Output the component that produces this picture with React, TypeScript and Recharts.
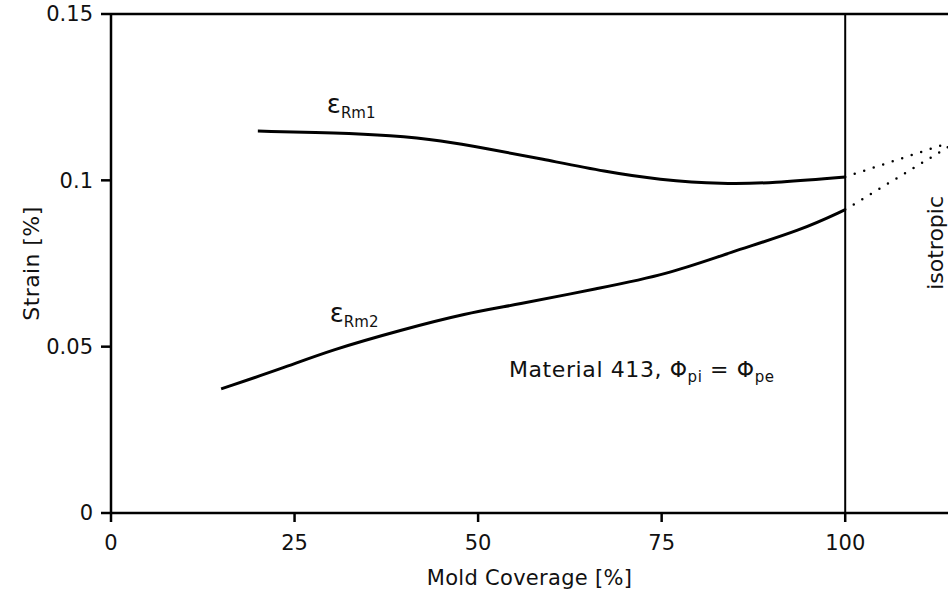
import { LineChart, Line, XAxis, YAxis, ReferenceLine, ReferenceDot, Label } from "recharts";

// mold coverage [%] and measured strain [%] along each curve
const rm1Coverage = [20, 31, 38, 45, 51.5, 58.5, 67.5, 74.5, 83.5, 90, 100];
const rm1Strain = [0.1148, 0.1143, 0.1135, 0.1120, 0.1094, 0.1065, 0.1025, 0.1002, 0.0988, 0.0992, 0.101];

const rm2Coverage = [15, 23.5, 30, 39.5, 48.5, 55, 66.5, 75.5, 84.5, 94, 100];
const rm2Strain = [0.0373, 0.0436, 0.049, 0.055, 0.0601, 0.0625, 0.0676, 0.0715, 0.0785, 0.085, 0.0912];

// dotted extrapolation toward the isotropic case
const extCoverage = [100, 114];
const ext1Strain = [0.101, 0.1112];
const ext2Strain = [0.0912, 0.1100];

const xTicks = [0, 25, 50, 75, 100];
const yTicks = [0, 0.05, 0.1, 0.15];

const toPoints = (xs: number[], ys: number[]) => xs.map((x, i) => ({ x, y: ys[i] }));

const rm1 = toPoints(rm1Coverage, rm1Strain);
const rm2 = toPoints(rm2Coverage, rm2Strain);
const ext1 = toPoints(extCoverage, ext1Strain);
const ext2 = toPoints(extCoverage, ext2Strain);

const FONT = "DejaVu Sans";
const INK = "#111";

const Epsilon = ({ cx, cy, sub }: any) => (
  <text x={cx} y={cy} fontSize={26} fill={INK} fontFamily={FONT}>
    <tspan>ε</tspan>
    <tspan fontSize={15} dy={5}>{sub}</tspan>
  </text>
);

const Vertical = ({ cx, cy, text }: any) => (
  <text x={cx} y={cy} fontSize={22} fill={INK} fontFamily={FONT}
    textAnchor="middle" dominantBaseline="central" transform={`rotate(-90 ${cx} ${cy})`}>
    {text}
  </text>
);

// "Material 413, Φpi = Φpe"
const MaterialNote = ({ cx, cy }: any) => (
  <text x={cx} y={cy} fontSize={22} fill={INK} fontFamily={FONT} letterSpacing={0.6}>
    <tspan>Material 413,  Φ</tspan>
    <tspan fontSize={15} dy={5}>pi</tspan>
    <tspan dy={-5}>  =  Φ</tspan>
    <tspan fontSize={15} dy={5}>pe</tspan>
  </text>
);

export default function App() {
  return (
    <div style={{ position: "absolute", left: 0, top: 0, background: "#fff", fontFamily: FONT }}>
      <LineChart width={948} height={596} margin={{ top: 14, right: 0, bottom: 0, left: 0 }}>
        <XAxis
          type="number"
          dataKey="x"
          domain={[0, 114]}
          ticks={xTicks}
          allowDataOverflow
          height={83}
          stroke="#000"
          strokeWidth={2.5}
          tickSize={9}
          tickMargin={13}
          tick={{ fontSize: 21, fill: INK, fontFamily: FONT }}
        >
          <Label value="Mold Coverage [%]" position="insideBottom" offset={11}
            style={{ fontSize: 21, fill: INK, fontFamily: FONT, letterSpacing: 0.3 }} />
        </XAxis>
        <YAxis
          type="number"
          dataKey="y"
          domain={[0, 0.15]}
          ticks={yTicks}
          allowDataOverflow
          width={111}
          stroke="#000"
          strokeWidth={2.5}
          tickSize={10}
          tickMargin={8}
          tickFormatter={(v: number) => String(v)}
          tick={{ fontSize: 21, fill: INK, fontFamily: FONT }}
        >
          <Label value="Strain [%]" angle={-90} position="insideLeft" offset={31}
            style={{ fontSize: 22, fill: INK, fontFamily: FONT, textAnchor: "middle", letterSpacing: 0.4 }} />
        </YAxis>

        <ReferenceLine y={0.15} stroke="#000" strokeWidth={2.5} />
        <ReferenceLine x={100} stroke="#000" strokeWidth={2} />

        <Line data={rm1} dataKey="y" type="basis" stroke="#000" strokeWidth={3}
          dot={false} isAnimationActive={false} />
        <Line data={rm2} dataKey="y" type="basis" stroke="#000" strokeWidth={3}
          dot={false} isAnimationActive={false} />
        <Line data={ext1} dataKey="y" type="linear" stroke="#000" strokeWidth={2.5}
          strokeDasharray="0 10" strokeLinecap="round" dot={false} isAnimationActive={false} />
        <Line data={ext2} dataKey="y" type="linear" stroke="#000" strokeWidth={2.5}
          strokeDasharray="0 10" strokeLinecap="round" dot={false} isAnimationActive={false} />

        <ReferenceDot x={29.4} y={0.1202} r={0}
          shape={(p: any) => <Epsilon cx={p.cx} cy={p.cy} sub="Rm1" />} />
        <ReferenceDot x={29.8} y={0.0574} r={0}
          shape={(p: any) => <Epsilon cx={p.cx} cy={p.cy} sub="Rm2" />} />
        <ReferenceDot x={54.2} y={0.0409} r={0}
          shape={(p: any) => <MaterialNote cx={p.cx} cy={p.cy} />} />
        <ReferenceDot x={112.3} y={0.0812} r={0}
          shape={(p: any) => <Vertical cx={p.cx} cy={p.cy} text="isotropic" />} />
      </LineChart>
    </div>
  );
}
